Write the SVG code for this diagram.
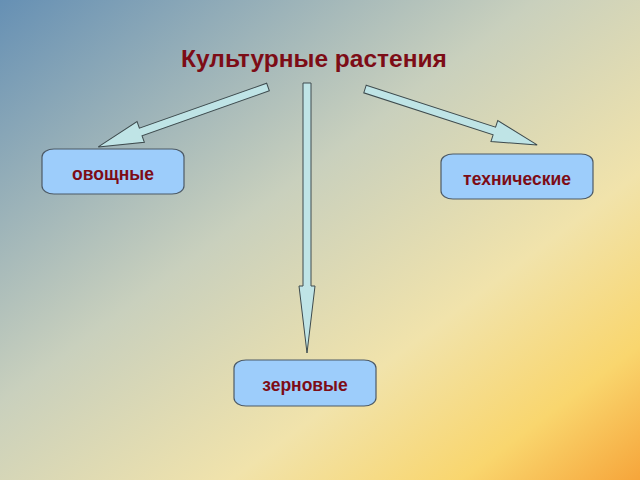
<svg xmlns="http://www.w3.org/2000/svg" width="640" height="480" viewBox="0 0 640 480">
<defs>
<linearGradient id="bg" x1="0" y1="0" x2="1" y2="1">
<stop offset="0" stop-color="#6690b4"/>
<stop offset="0.42" stop-color="#c9d0bd"/>
<stop offset="0.68" stop-color="#f1e3ab"/>
<stop offset="0.86" stop-color="#f9d66e"/>
<stop offset="1" stop-color="#f6a53a"/>
</linearGradient>
<style>
.node rect{fill:#9dcdfb;stroke:#4d5a66;stroke-width:1.2}
.node text,.title{font-family:"Liberation Sans",Arial,sans-serif;font-weight:bold;fill:#7d0c16;text-anchor:middle}
.node text{font-size:17.5px}
.title{font-size:24.5px}
.arr{fill:#bfe4e6;stroke:#3e4b4e;stroke-width:1}
</style>
</defs>
<rect x="0" y="0" width="640" height="480" fill="url(#bg)"/>
<text class="title" x="314" y="67">Культурные растения</text>
<g id="connectors">
<polygon class="arr" transform="translate(268,87) rotate(160.56)" points="0,-4 135,-4 135,-11 180,0 135,11 135,4 0,4"/>
<polygon class="arr" transform="translate(365,89) rotate(18)" points="0,-4 136,-4 136,-11 181,0 136,11 136,4 0,4"/>
<polygon class="arr" points="303,83 311,83 311,286 315,286 307,353 299,286 303,286"/>
</g>
<g id="node-ovoshchnye" class="node">
<rect x="42" y="149" width="142" height="45" rx="12" ry="8"/>
<text x="113" y="180">овощные</text>
</g>
<g id="node-tekhnicheskie" class="node">
<rect x="441" y="154" width="152" height="45" rx="12" ry="8"/>
<text x="517" y="185">технические</text>
</g>
<g id="node-zernovye" class="node">
<rect x="234" y="360" width="142" height="46" rx="12" ry="8"/>
<text x="305" y="391">зерновые</text>
</g>
</svg>
